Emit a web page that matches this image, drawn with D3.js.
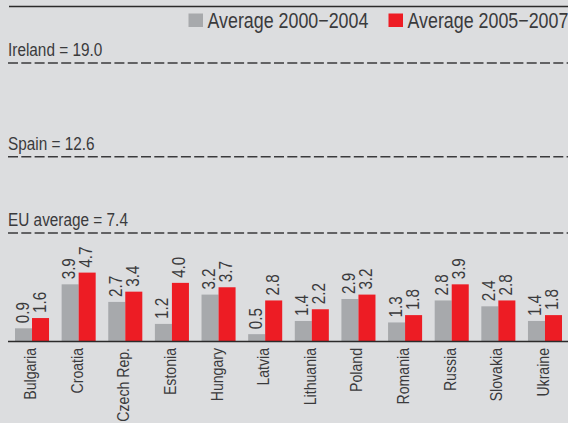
<!DOCTYPE html>
<meta charset="utf-8">
<script src="https://d3js.org/d3.v7.min.js"></script>
<style>
  body { margin: 0; background: #dcdddf; }
  text { font-family: "Liberation Sans", Arial, sans-serif; fill: #3a3a3c; }
</style>
<div id="my_dataviz"></div>
<script>

// categories and series
var countries = ["Bulgaria", "Croatia", "Czech Rep.", "Estonia", "Hungary", "Latvia",
                 "Lithuania", "Poland", "Romania", "Russia", "Slovakia", "Ukraine"];
var avg2000_2004 = [0.9, 3.9, 2.7, 1.2, 3.2, 0.5, 1.4, 2.9, 1.3, 2.8, 2.4, 1.4];
var avg2005_2007 = [1.6, 4.7, 3.4, 4.0, 3.7, 2.8, 2.2, 3.2, 1.8, 3.9, 2.8, 1.8];
var seriesNames = ["Average 2000\u22122004", "Average 2005\u22122007"];

// reference lines
var refLabels = ["Ireland", "Spain", "EU average"];
var refValues = [19.0, 12.6, 7.4];

var colors = ["#a7a9ac", "#ed1c24"];

var width = 568, height = 423;
var narrow = " scale(0.83,1)";   // fake a narrow face (no Arial Narrow installed)

var svg = d3.select("#my_dataviz")
  .append("svg")
    .attr("width", width)
    .attr("height", height);

// scales
var x = d3.scaleBand()
  .domain(countries)
  .range([8.7, 568.3])
  .paddingInner(0.27)
  .paddingOuter(0.135);

var x1 = d3.scaleBand()
  .domain([0, 1])
  .range([0, x.bandwidth()]);

var y = d3.scaleLinear()
  .domain([0, 19])
  .range([341.5, 63]);

// top frame line
svg.append("line")
  .attr("x1", 9).attr("x2", width)
  .attr("y1", 6.5).attr("y2", 6.5)
  .attr("stroke", "#2b2b2b")
  .attr("stroke-width", 1.5);

// legend
var legend = svg.selectAll(".legend")
  .data(seriesNames)
  .enter().append("g")
    .attr("transform", function(d, i) { return "translate(" + (188.5 + i * 200) + ",13.5)"; });
legend.append("rect")
  .attr("width", 14.5).attr("height", 13.5)
  .attr("fill", function(d, i) { return colors[i]; });
legend.append("text")
  .attr("transform", "translate(19,14)" + narrow)
  .style("font-size", "21.5px")
  .text(function(d) { return d; });

// reference lines
refValues.forEach(function(v, i) {
  svg.append("line")
    .attr("x1", 8).attr("x2", width)
    .attr("y1", y(v)).attr("y2", y(v))
    .attr("stroke", "#3a3a3c")
    .attr("stroke-width", 1.6)
    .attr("stroke-dasharray", "10,3.3");
  svg.append("text")
    .attr("transform", "translate(8," + (y(v) - 7) + ")" + narrow)
    .style("font-size", "18.5px")
    .text(refLabels[i] + " = " + v.toFixed(1));
});

// bars
var groups = svg.selectAll(".grp")
  .data(countries)
  .enter().append("g")
    .attr("transform", function(d) { return "translate(" + x(d) + ",0)"; });

groups.each(function(d, ci) {
  var g = d3.select(this);
  var vals = [avg2000_2004[ci], avg2005_2007[ci]];
  g.selectAll("rect")
    .data(vals)
    .enter().append("rect")
      .attr("x", function(v, i) { return x1(i); })
      .attr("y", function(v) { return y(v); })
      .attr("width", x1.bandwidth())
      .attr("height", function(v) { return y(0) - y(v); })
      .attr("fill", function(v, i) { return colors[i]; });
  g.selectAll(".val")
    .data(vals)
    .enter().append("text")
      .attr("transform", function(v, i) {
        return "translate(" + (x1(i) + x1.bandwidth() / 2 + 5) + "," + (y(v) - 5) + ") rotate(-90) scale(0.87,1)";
      })
      .style("font-size", "17.5px")
      .text(function(v) { return v.toFixed(1); });
});

// baseline
svg.append("line")
  .attr("x1", 8).attr("x2", width)
  .attr("y1", y(0)).attr("y2", y(0))
  .attr("stroke", "#2b2b2b")
  .attr("stroke-width", 1.5);

// category labels
svg.selectAll(".cat")
  .data(countries)
  .enter().append("text")
    .attr("transform", function(d) {
      return "translate(" + (x(d) + x.bandwidth() / 2 + 4) + ",348) rotate(-90)" + narrow;
    })
    .attr("text-anchor", "end")
    .style("font-size", "17px")
    .text(function(d) { return d; });

</script>
